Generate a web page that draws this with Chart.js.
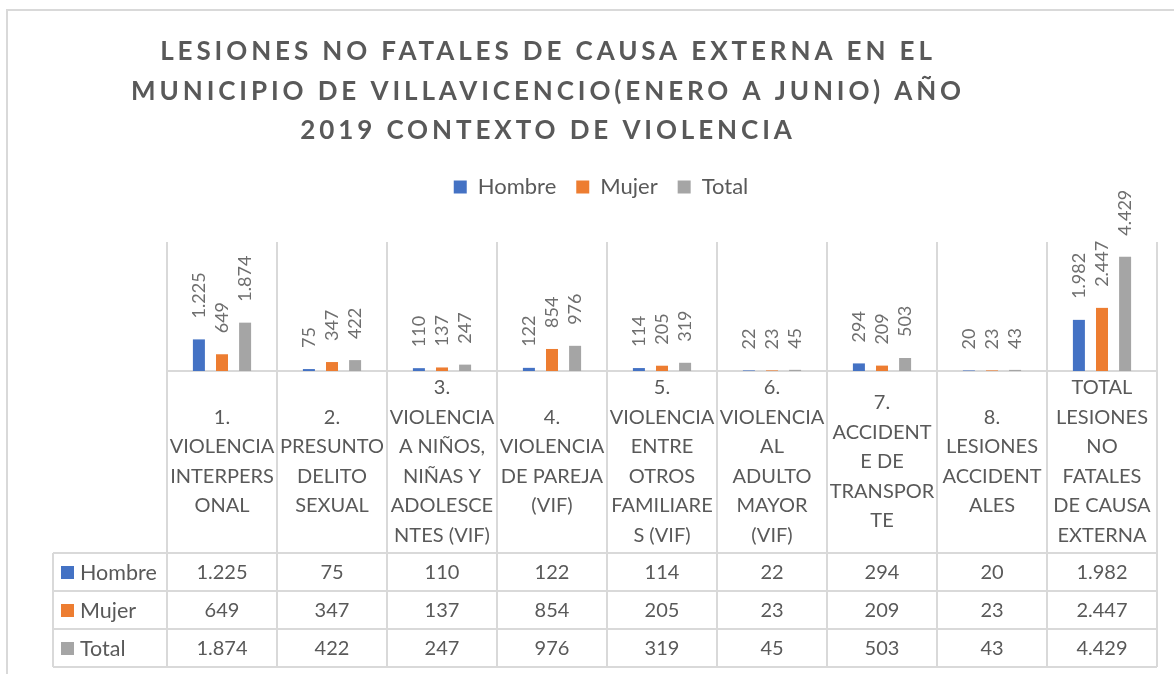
<!DOCTYPE html>
<html>
<head>
<meta charset="utf-8">
<script src="https://cdn.jsdelivr.net/npm/chart.js@4.4.1/dist/chart.umd.min.js"></script>
<style>
  html, body { margin: 0; padding: 0; background: #fff; }
  #wrap { width: 1174px; height: 674px; position: relative; }
</style>
</head>
<body>
<div id="wrap"><canvas id="lesionesChart" width="1174" height="674"></canvas></div>
<script>
const titleLines = [
    'LESIONES NO FATALES DE CAUSA EXTERNA EN EL',
    'MUNICIPIO DE VILLAVICENCIO(ENERO A JUNIO) AÑO',
    '2019 CONTEXTO DE VIOLENCIA'
];

const categories = [
    ['1.', 'VIOLENCIA', 'INTERPERS', 'ONAL'],
    ['2.', 'PRESUNTO', 'DELITO', 'SEXUAL'],
    ['3.', 'VIOLENCIA', 'A NIÑOS,', 'NIÑAS Y', 'ADOLESCE', 'NTES (VIF)'],
    ['4.', 'VIOLENCIA', 'DE PAREJA', '(VIF)'],
    ['5.', 'VIOLENCIA', 'ENTRE', 'OTROS', 'FAMILIARE', 'S (VIF)'],
    ['6.', 'VIOLENCIA', 'AL', 'ADULTO', 'MAYOR', '(VIF)'],
    ['7.', 'ACCIDENT', 'E DE', 'TRANSPOR', 'TE'],
    ['8.', 'LESIONES', 'ACCIDENT', 'ALES'],
    ['TOTAL', 'LESIONES', 'NO', 'FATALES', 'DE CAUSA', 'EXTERNA']
];

const seriesNames = ['Hombre', 'Mujer', 'Total'];
const hombre = [1225, 75, 110, 122, 114, 22, 294, 20, 1982];
const mujer = [649, 347, 137, 854, 205, 23, 209, 23, 2447];
const total = [1874, 422, 247, 976, 319, 45, 503, 43, 4429];

const colors = ['#4472C4', '#ED7D31', '#A5A5A5'];
const textColor = '#595959';
const lineColor = '#d9d9d9';
const fontFamily = 'Lato, "Noto Sans", sans-serif';

function fmt(v) {
    return v.toLocaleString('de-DE');
}

// outer frame + title
const frameAndTitle = {
    id: 'frameAndTitle',
    beforeDraw(chart) {
        const ctx = chart.ctx;
        ctx.save();
        ctx.fillStyle = lineColor;
        ctx.fillRect(6, 9, chart.width - 6, 2);
        ctx.fillRect(6, 9, 2, chart.height - 9);
        ctx.restore();
    },
    afterDraw(chart) {
        const ctx = chart.ctx;
        ctx.save();
        ctx.fillStyle = textColor;
        ctx.font = 'bold 26px ' + fontFamily;
        ctx.letterSpacing = '3.9px';
        ctx.textAlign = 'center';
        ctx.textBaseline = 'alphabetic';
        titleLines.forEach((line, i) => {
            ctx.fillText(line, 548, 60 + i * 39.5);
        });
        ctx.restore();
    }
};

// rotated value labels above the bars
const barLabels = {
    id: 'barLabels',
    afterDatasetsDraw(chart) {
        const ctx = chart.ctx;
        ctx.save();
        ctx.fillStyle = '#6e6e6e';
        ctx.font = '18px ' + fontFamily;
        ctx.textAlign = 'left';
        ctx.textBaseline = 'middle';
        chart.data.datasets.forEach((ds, di) => {
            chart.getDatasetMeta(di).data.forEach((bar, i) => {
                ctx.save();
                ctx.translate(bar.x, bar.y - 21);
                ctx.rotate(-Math.PI / 2);
                ctx.fillText(fmt(ds.data[i]), 0, 0);
                ctx.restore();
            });
        });
        ctx.restore();
    }
};

// data table under the category labels
const dataTable = {
    id: 'dataTable',
    afterDraw(chart) {
        const ctx = chart.ctx;
        const x = chart.scales.x;
        const top = x.bottom;
        const rowH = 38;
        const left = 53;
        const right = chart.chartArea.right;
        ctx.save();
        ctx.strokeStyle = lineColor;
        ctx.lineWidth = 2;
        ctx.beginPath();
        for (let r = 0; r <= 3; r++) {
            ctx.moveTo(left, top + r * rowH);
            ctx.lineTo(right, top + r * rowH);
        }
        ctx.moveTo(left, top);
        ctx.lineTo(left, top + 3 * rowH);
        ctx.stroke();

        ctx.textBaseline = 'middle';
        chart.data.datasets.forEach((ds, di) => {
            const cy = top + di * rowH + rowH / 2;
            ctx.fillStyle = ds.backgroundColor;
            ctx.fillRect(61, cy - 6, 13, 13);
            ctx.fillStyle = textColor;
            ctx.textAlign = 'left';
            ctx.font = '21.5px ' + fontFamily;
            ctx.fillText(ds.label, 80, cy + 1);
            ctx.textAlign = 'center';
            ctx.font = '20px ' + fontFamily;
            ds.data.forEach((v, i) => {
                ctx.fillText(fmt(v), x.getPixelForValue(i), cy + 1);
            });
        });
        ctx.restore();
    }
};

const ctx = document.getElementById('lesionesChart').getContext('2d');
const chart = new Chart(ctx, {
    type: 'bar',
    data: {
        labels: categories,
        datasets: [
            { label: seriesNames[0], data: hombre, backgroundColor: colors[0] },
            { label: seriesNames[1], data: mujer, backgroundColor: colors[1] },
            { label: seriesNames[2], data: total, backgroundColor: colors[2] }
        ]
    },
    options: {
        responsive: false,
        animation: false,
        events: [],
        categoryPercentage: 0.63,
        barPercentage: 0.52,
        layout: {
            padding: { top: 156, left: 45, right: 17, bottom: 121 }
        },
        plugins: {
            title: { display: false },
            tooltip: { enabled: false },
            legend: {
                display: true,
                position: 'top',
                labels: {
                    boxWidth: 13,
                    boxHeight: 13,
                    padding: 20,
                    color: textColor,
                    font: { family: fontFamily, size: 22 }
                }
            }
        },
        scales: {
            x: {
                position: 'bottom',
                offset: true,
                grid: {
                    display: true,
                    offset: true,
                    color: lineColor,
                    lineWidth: 2,
                    drawTicks: true,
                    tickLength: 296
                },
                border: { display: true, color: lineColor, width: 2 },
                ticks: {
                    autoSkip: false,
                    maxRotation: 0,
                    minRotation: 0,
                    crossAlign: 'center',
                    padding: -279,
                    color: textColor,
                    font: { family: fontFamily, size: 20, lineHeight: 1.475 }
                },
                afterFit(scale) { scale.height = 182; }
            },
            xTop: {
                axis: 'x',
                type: 'category',
                position: 'top',
                display: true,
                grid: { display: false },
                border: { display: false },
                ticks: { display: false },
                afterFit(scale) { scale.height = 34; }
            },
            y: {
                position: 'left',
                min: 0,
                max: 5000,
                display: true,
                grid: { display: false },
                border: { display: false },
                ticks: { display: false },
                afterFit(scale) { scale.width = 122; }
            }
        }
    },
    plugins: [frameAndTitle, barLabels, dataTable]
});
</script>
</body>
</html>
